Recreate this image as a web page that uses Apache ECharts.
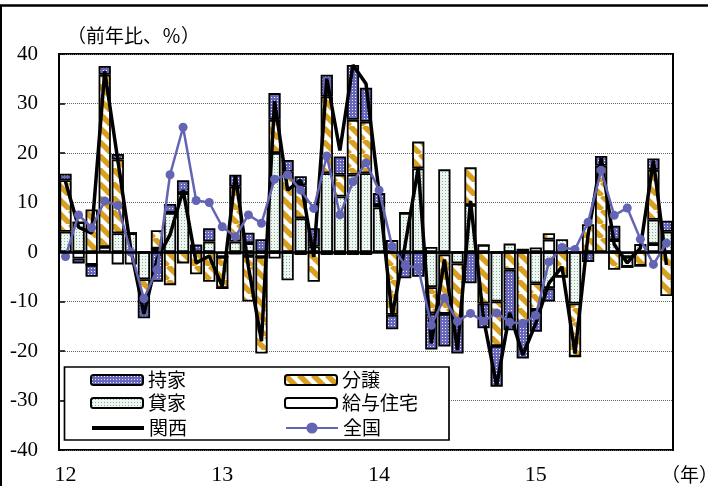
<!DOCTYPE html>
<html>
<head>
<meta charset="utf-8">
<script src="https://cdn.jsdelivr.net/npm/echarts/dist/echarts.min.js"></script>
<style>
html,body{margin:0;padding:0;background:#fff;}
#chart{width:708px;height:486px;}
</style>
</head>
<body>
<div id="chart"></div>
<script>
// ---- data ----
const categories = ['12/01','12/02','12/03','12/04','12/05','12/06','12/07','12/08','12/09','12/10','12/11','12/12',
  '13/01','13/02','13/03','13/04','13/05','13/06','13/07','13/08','13/09','13/10','13/11','13/12',
  '14/01','14/02','14/03','14/04','14/05','14/06','14/07','14/08','14/09','14/10','14/11','14/12',
  '15/01','15/02','15/03','15/04','15/05','15/06','15/07','15/08','15/09','15/10','15/11'];
const yTicks = [-40,-30,-20,-10,0,10,20,30,40];
// 給与住宅
const kyuyo = [0,-1.3,-2.6,0,-2.5,-2.5,0,0.7,0,0, 0,0,-1.0,-0.5,-0.8,-1.0,-1.3,0,-0.6,0,
  -0.6,-0.6,-0.6,-0.6,0,0,0,0,1.0,-0.5, 0,0,1.4,0,0,0.5,0.9,2.5,0,0, 0,0,0,-1.0,0,1.6,0];
// 貸家
const kashiya = [4.1,6.0,0,1.0,3.8,3.8,-5.5,0,7.9,11.9, 0,2.1,0,2.1,1.8,0,20.0,-5.7,6.8,1.1,
  15.9,11.2,15.6,15.9,9.0,2.4,7.9,16.9,-7.1,16.7, -2.3,9.5,0,-10.0,1.7,0,-6.3,-7.3,2.6,-10.4,
  0,0,2.4,-2.0,1.6,4.9,4.1];
// 分譲
const bunjo = [10.4,0,8.6,34.8,14.9,0,-4.0,3.7,-6.7,-2.3, -4.5,-6.0,-6.3,11.1,-9.2,-19.5,6.7,16.2,6.7,-6.0,
  15.5,4.4,11.1,10.4,0.5,-12.7,0,5.4,-5.3,-12.0, -11.5,7.6,-10.4,-9.0,-3.6,-14.3,-5.4,1.3,-5.0,-10.7,
  5.6,17.4,-3.6,0,-2.8,10.1,-8.9];
// 持家
const mochiie = [1.3,-1.0,-2.4,1.8,1.1,0,-3.9,-6.0,1.8,2.6, 1.5,2.7,0,2.4,2.1,2.6,5.4,2.4,1.8,3.7,
  4.4,3.7,11.1,6.9,2.4,-2.9,-5.3,-5.0,-7.3,-6.6, -6.7,-6.3,-5.0,-8.2,-12.2,-7.2,-4.4,-2.7,0,0,
  -2.0,2.0,2.9,0,0,2.3,2.2];
// 関西
const kansai = [14.2,5.0,3.8,36.5,18.6,0.5,-12.5,-1.5,3.5,12.5, -2.2,-0.8,-7.0,15.5,-3.0,-18.0,30.5,12.5,14.5,-1.0,
  35.0,20.5,37.8,34.0,12.0,-13.0,1.5,17.0,-18.5,-1.5, -19.8,10.3,-13.5,-27.0,-12.3,-20.8,-14.4,-6.3,-3.0,-20.5,
  3.5,19.0,1.5,-2.2,0.8,18.5,-2.6];
// 全国
const zenkoku = [-0.9,7.5,4.9,10.3,9.4,0,-9.4,-3.6,15.6,25.2, 10.4,10.0,5.1,3.1,7.5,5.8,14.7,15.6,12.5,8.8,
  19.4,7.5,14.2,18.0,12.5,1.1,-2.7,-3.2,-14.8,-9.3, -14.0,-12.4,-14.0,-12.3,-14.2,-14.4,-12.8,-2.0,0.9,0.5,
  6.0,16.5,7.4,8.9,2.6,-2.5,1.8];

// ---- patterns ----
function dotPattern(bg, dot, size, dots) {
  const c = document.createElement('canvas');
  c.width = size; c.height = size;
  const ctx = c.getContext('2d');
  ctx.fillStyle = bg; ctx.fillRect(0, 0, size, size);
  ctx.fillStyle = dot;
  dots.forEach(d => ctx.fillRect(d[0], d[1], d[2], d[2]));
  return { image: c, repeat: 'repeat' };
}
function stripePattern(bg, fg, s, w) {
  const c = document.createElement('canvas');
  c.width = s; c.height = s;
  const ctx = c.getContext('2d');
  ctx.fillStyle = bg; ctx.fillRect(0, 0, s, s);
  ctx.strokeStyle = fg; ctx.lineWidth = w;
  ctx.beginPath();
  [-1, 0, 1].forEach(k => { ctx.moveTo(k * s, 0); ctx.lineTo(k * s + s, s); });
  ctx.stroke();
  return { image: c, repeat: 'repeat' };
}
const patMochi = dotPattern('#6767BC', '#EDEDFA', 3, [[1, 1, 1]]);
const patKashi = dotPattern('#EEF6F1', '#86AD98', 3, [[1, 1, 1]]);
const patBunjo = stripePattern('#FFFFFF', '#D8A020', 14, 5.5);

const chart = echarts.init(document.getElementById('chart'), null, { renderer: 'canvas' });

const BW = 1.8;
const barBase = {
  type: 'bar', stack: 'total', barCategoryGap: '6%',
  emphasis: { disabled: true }
};
const legendText = { fontFamily: 'Noto Sans CJK JP', fontSize: 19, color: '#000', lineHeight: 20 };
const legendCommon = { left: 90, itemWidth: 52, itemHeight: 10, itemGap: 98, padding: 0, textStyle: legendText, selectedMode: false, z: 5 };

const option = {
  animation: false,
  backgroundColor: '#fff',
  grid: { left: 59, right: 35, top: 54, bottom: 36, show: true, borderColor: '#000', borderWidth: 2, backgroundColor: 'transparent' },
  xAxis: {
    type: 'category', data: categories,
    axisLine: { show: false, onZero: false },
    axisTick: { show: false },
    splitLine: { show: false },
    axisLabel: {
      interval: 0, margin: 14, fontFamily: 'Liberation Serif', fontSize: 22, color: '#000',
      formatter: v => v.endsWith('/01') ? v.slice(0, 2) : ''
    }
  },
  yAxis: {
    type: 'value', min: yTicks[0], max: yTicks[yTicks.length - 1], interval: 10,
    axisLine: { show: false },
    axisTick: { show: true, inside: true, length: 6, lineStyle: { color: '#000', width: 1.5 } },
    axisLabel: { margin: 21, fontFamily: 'Liberation Serif', fontSize: 21, color: '#000' },
    splitLine: { lineStyle: { type: 'dotted', color: '#666', width: 1 } }
  },
  legend: [
    Object.assign({ top: 370, data: ['持家', '分譲'] }, legendCommon),
    Object.assign({ top: 393, data: ['貸家', '給与住宅'] }, legendCommon),
    Object.assign({}, legendCommon, { top: 418, itemHeight: 14, data: [{ name: '関西', lineStyle: { width: 4 } }, '全国'] })
  ],
  graphic: [
    { type: 'line', shape: { x1: 0, y1: 5.5, x2: 708, y2: 5.5 }, style: { stroke: '#000', lineWidth: 2.5 }, z: 10 },
    { type: 'line', shape: { x1: 1, y1: 5, x2: 1, y2: 486 }, style: { stroke: '#000', lineWidth: 2 }, z: 10 },
    { type: 'text', left: 67, top: 26, style: { text: '（前年比、％）', font: '19px "Noto Sans CJK JP"', fill: '#000' }, z: 10 },
    { type: 'text', left: 661, top: 465, style: { text: '（年）', font: '19px "Noto Sans CJK JP"', fill: '#000' }, z: 10 },
    { type: 'rect', shape: { x: 64.5, y: 367, width: 384.5, height: 73 }, style: { fill: '#fff', stroke: '#000', lineWidth: 1.7 }, z: 3 }
  ],
  series: [
    Object.assign({}, barBase, { name: '給与住宅', data: kyuyo, itemStyle: { color: '#FFFFFF', borderColor: '#000', borderWidth: BW } }),
    Object.assign({}, barBase, { name: '貸家', data: kashiya, itemStyle: { color: patKashi, borderColor: '#000', borderWidth: BW } }),
    Object.assign({}, barBase, { name: '分譲', data: bunjo, itemStyle: { color: patBunjo, borderColor: '#000', borderWidth: BW } }),
    Object.assign({}, barBase, { name: '持家', data: mochiie, itemStyle: { color: patMochi, borderColor: '#000', borderWidth: BW } }),
    {
      name: '関西', type: 'line', data: kansai, symbol: 'none', showSymbol: false,
      lineStyle: { color: '#000', width: 3.5 }, itemStyle: { color: 'rgba(0,0,0,0)', borderColor: 'rgba(0,0,0,0)' },
      emphasis: { disabled: true },
      markLine: {
        silent: true, symbol: 'none', label: { show: false },
        lineStyle: { color: '#000', width: 2.5, type: 'solid' },
        data: [{ yAxis: 0 }]
      }
    },
    {
      name: '全国', type: 'line', data: zenkoku, symbol: 'circle', symbolSize: 9,
      lineStyle: { color: '#6464B4', width: 2.5 }, itemStyle: { color: '#6464B4' },
      emphasis: { disabled: true }
    }
  ]
};
chart.setOption(option);
</script>
</body>
</html>
